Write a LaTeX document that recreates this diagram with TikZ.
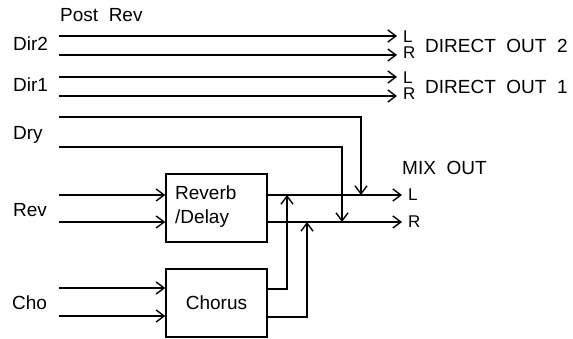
\documentclass[tikz,border=0pt]{standalone}
\usepackage{fontspec}
\setmainfont{Liberation Sans}
\usetikzlibrary{arrows.meta}
\begin{document}
\begin{tikzpicture}[x=1pt,y=-1pt,
  sig/.style={line width=1.4pt},
  arr/.style={sig,-{Straight Barb[length=8pt,width=12pt,line width=1.4pt]}},
  lbl/.style={font=\fontsize{19}{24}\selectfont, inner sep=0pt},
  lr/.style={lbl,anchor=west,font=\fontsize{17}{17}\selectfont},
  blk/.style={draw, line width=1.4pt, minimum width=101pt, minimum height=68pt, inner sep=0pt}]
\useasboundingbox (0,0) rectangle (573,339);

% left labels
\node[lbl,anchor=west] (post) at (60,15) {Post\ \ Rev};
\node[lbl,anchor=west] (ldir2) at (13,44) {Dir2};
\node[lbl,anchor=west] (ldir1) at (13,85) {Dir1};
\node[lbl,anchor=west] (ldry) at (13,135) {Dry};
\node[lbl,anchor=west] (lrev) at (13,210) {Rev};
\node[lbl,anchor=west] (lcho) at (12,303) {Cho};

% blocks
\node[blk] (rev) at (216.5,208) {};
\node[lbl,anchor=north west,align=left] (revtxt) at (175,186) {Reverb\\/Delay};
\node[blk] (cho) at (216.5,303) {};
\node[lbl] (chotxt) at (cho.center) {Chorus};

% line starts
\coordinate (s21) at (59,36);
\coordinate (s22) at (59,55);
\coordinate (s11) at (59,77);
\coordinate (s12) at (59,96);
\coordinate (sd1) at (59,117);
\coordinate (sd2) at (59,147);
\coordinate (sr1) at (59,195);
\coordinate (sr2) at (59,222);
\coordinate (sc1) at (59,288);
\coordinate (sc2) at (59,316);

% direct out ends
\coordinate (e21) at (397,36);
\coordinate (e22) at (397,55);
\coordinate (e11) at (397,77);
\coordinate (e12) at (397,96);

% mix out ends
\coordinate (mL) at (402,195);
\coordinate (mR) at (402,222);

% corners
\coordinate (dry1c) at (361,117);
\coordinate (dry2c) at (342,147);
\coordinate (choLc) at (287,289);
\coordinate (choRc) at (307,317);

% direct out arrows
\draw[arr] (s21) -- (e21);
\draw[arr] (s22) -- (e22);
\draw[arr] (s11) -- (e11);
\draw[arr] (s12) -- (e12);

\node[lr] (L2) at (403,37) {L};
\node[lr] (R2) at (403,53) {R};
\node[lr] (L1) at (403,78) {L};
\node[lr] (R1) at (403,94) {R};
\node[lbl,anchor=west] (do2) at (425,46) {DIRECT\ \ OUT\ \ 2};
\node[lbl,anchor=west] (do1) at (425,87) {DIRECT\ \ OUT\ \ 1};

% inputs to blocks
\draw[arr] (sr1) -- (sr1 -| rev.west);
\draw[arr] (sr2) -- (sr2 -| rev.west);
\draw[arr] (sc1) -- (sc1 -| cho.west);
\draw[arr] (sc2) -- (sc2 -| cho.west);

% reverb outputs to mix
\draw[arr] (mL -| rev.east) -- (mL);
\draw[arr] (mR -| rev.east) -- (mR);

% dry to mix
\draw[arr] (sd1) -- (dry1c) -- (dry1c |- mL);
\draw[arr] (sd2) -- (dry2c) -- (dry2c |- mR);

% chorus outputs
\draw[arr] (choLc -| cho.east) -- (choLc) -- (choLc |- mL);
\draw[arr] (choRc -| cho.east) -- (choRc) -- (choRc |- mR);

\node[lbl,anchor=west] (mix) at (402,168) {MIX\ \ OUT};
\node[lr] (mLt) at (408,195) {L};
\node[lr] (mRt) at (408,222) {R};
\end{tikzpicture}
\end{document}
